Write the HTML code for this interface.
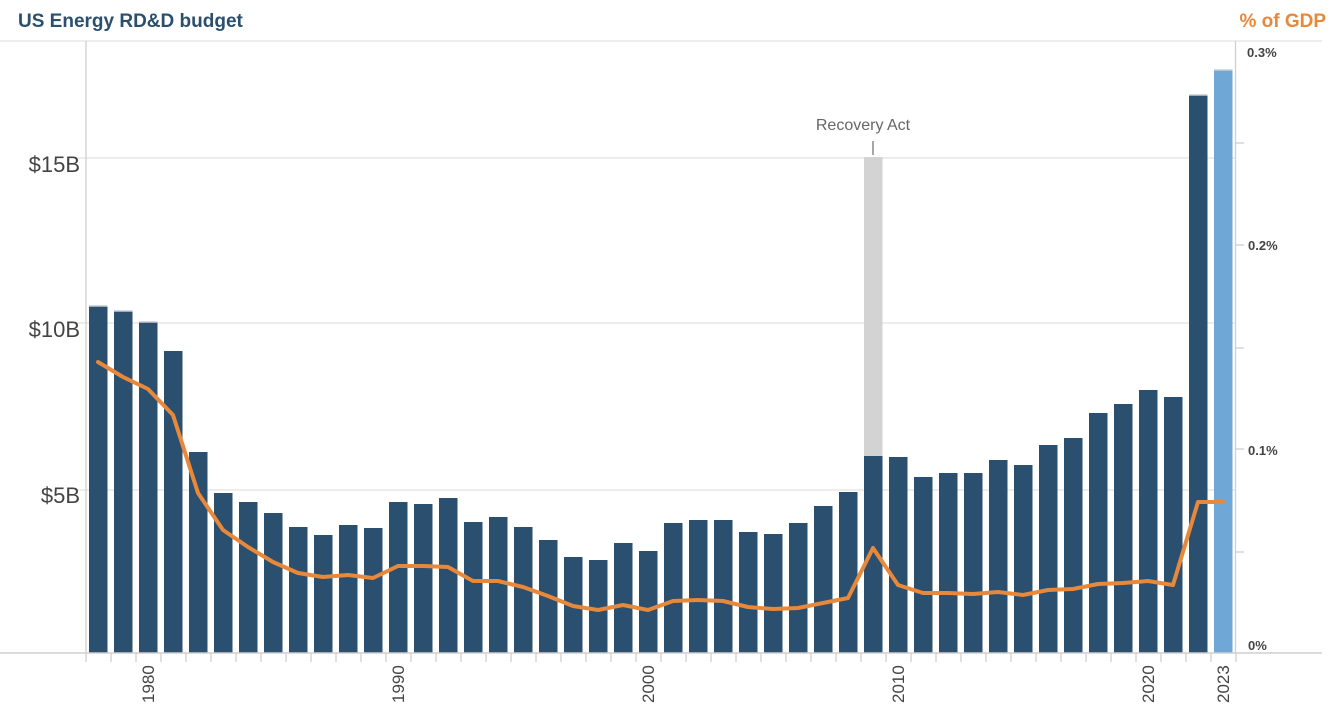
<!DOCTYPE html>
<html><head><meta charset="utf-8"><style>
html,body{margin:0;padding:0;background:#fff;}
svg{display:block;}
text{font-family:"Liberation Sans",sans-serif;}
</style></head><body>
<svg width="1332" height="715" xmlns="http://www.w3.org/2000/svg">
<text x="18" y="27" font-size="19" font-weight="bold" fill="#2b4f6e">US Energy RD&amp;D budget</text>
<text x="1326" y="27" font-size="19" font-weight="bold" fill="#e8883a" text-anchor="end">% of GDP</text>
<g stroke="#e2e2e2" stroke-width="1.3">
<line x1="0" y1="41" x2="1322" y2="41"/>
<line x1="78" y1="158" x2="1235" y2="158"/>
<line x1="78" y1="323" x2="1235" y2="323"/>
<line x1="78" y1="490" x2="1235" y2="490"/>
</g>
<line x1="86" y1="41" x2="86" y2="653" stroke="#d0d0d0" stroke-width="1.3"/>
<line x1="1235.5" y1="41" x2="1235.5" y2="653" stroke="#d0d0d0" stroke-width="1.3"/>
<g font-size="22" fill="#444" text-anchor="end">
<text x="80" y="172">$15B</text>
<text x="80" y="337">$10B</text>
<text x="80" y="503">$5B</text>
</g>
<g font-size="13" font-weight="bold" fill="#444">
<text x="1247" y="57">0.3%</text>
<text x="1248" y="250">0.2%</text>
<text x="1248" y="455">0.1%</text>
<text x="1248" y="650">0%</text>
</g>
<g stroke="#d0d0d0" stroke-width="1.3">
<line x1="1236" y1="143" x2="1244" y2="143"/>
<line x1="1236" y1="245" x2="1244" y2="245"/>
<line x1="1236" y1="348" x2="1244" y2="348"/>
<line x1="1236" y1="449" x2="1244" y2="449"/>
<line x1="1236" y1="552" x2="1244" y2="552"/>
</g>
<rect x="864" y="157" width="18.5" height="300" fill="#d3d3d3"/>
<line x1="873" y1="141" x2="873" y2="155" stroke="#777" stroke-width="1.3"/>
<text x="863" y="130" font-size="16" fill="#666" text-anchor="middle">Recovery Act</text>
<g fill="#2b4f6e" stroke="#c9ccd0" stroke-width="0">
<rect x="89" y="306" width="18.5" height="347"/>
<rect x="114" y="311" width="18.5" height="342"/>
<rect x="139" y="322" width="18.5" height="331"/>
<rect x="164" y="351" width="18.5" height="302"/>
<rect x="189" y="452" width="18.5" height="201"/>
<rect x="214" y="493" width="18.5" height="160"/>
<rect x="239" y="502" width="18.5" height="151"/>
<rect x="264" y="513" width="18.5" height="140"/>
<rect x="289" y="527" width="18.5" height="126"/>
<rect x="314" y="535" width="18.5" height="118"/>
<rect x="339" y="525" width="18.5" height="128"/>
<rect x="364" y="528" width="18.5" height="125"/>
<rect x="389" y="502" width="18.5" height="151"/>
<rect x="414" y="504" width="18.5" height="149"/>
<rect x="439" y="498" width="18.5" height="155"/>
<rect x="464" y="522" width="18.5" height="131"/>
<rect x="489" y="517" width="18.5" height="136"/>
<rect x="514" y="527" width="18.5" height="126"/>
<rect x="539" y="540" width="18.5" height="113"/>
<rect x="564" y="557" width="18.5" height="96"/>
<rect x="589" y="560" width="18.5" height="93"/>
<rect x="614" y="543" width="18.5" height="110"/>
<rect x="639" y="551" width="18.5" height="102"/>
<rect x="664" y="523" width="18.5" height="130"/>
<rect x="689" y="520" width="18.5" height="133"/>
<rect x="714" y="520" width="18.5" height="133"/>
<rect x="739" y="532" width="18.5" height="121"/>
<rect x="764" y="534" width="18.5" height="119"/>
<rect x="789" y="523" width="18.5" height="130"/>
<rect x="814" y="506" width="18.5" height="147"/>
<rect x="839" y="492" width="18.5" height="161"/>
<rect x="864" y="456" width="18.5" height="197"/>
<rect x="889" y="457" width="18.5" height="196"/>
<rect x="914" y="477" width="18.5" height="176"/>
<rect x="939" y="473" width="18.5" height="180"/>
<rect x="964" y="473" width="18.5" height="180"/>
<rect x="989" y="460" width="18.5" height="193"/>
<rect x="1014" y="465" width="18.5" height="188"/>
<rect x="1039" y="445" width="18.5" height="208"/>
<rect x="1064" y="438" width="18.5" height="215"/>
<rect x="1089" y="413" width="18.5" height="240"/>
<rect x="1114" y="404" width="18.5" height="249"/>
<rect x="1139" y="390" width="18.5" height="263"/>
<rect x="1164" y="397" width="18.5" height="256"/>
<rect x="1189" y="95" width="18.5" height="558"/>
<rect x="1214" y="70" width="18.5" height="583" fill="#6fa8d6"/>
</g>
<path d="M1189 95h18.5M1214 70h18.5M89 306h18.5M114 311h18.5M139 322h18.5" stroke="#c9ccd0" stroke-width="1.5"/>
<path d="M86 653v9M111 653v9M136 653v9M161 653v9M186 653v9M211 653v9M236 653v9M261 653v9M286 653v9M311 653v9M336 653v9M361 653v9M386 653v9M411 653v9M436 653v9M461 653v9M486 653v9M511 653v9M536 653v9M561 653v9M586 653v9M611 653v9M636 653v9M661 653v9M686 653v9M711 653v9M736 653v9M761 653v9M786 653v9M811 653v9M836 653v9M861 653v9M886 653v9M911 653v9M936 653v9M961 653v9M986 653v9M1011 653v9M1036 653v9M1061 653v9M1086 653v9M1111 653v9M1136 653v9M1161 653v9M1186 653v9M1211 653v9M1236 653v9" stroke="#d0d0d0" stroke-width="1.3"/>
<path d="M98 362L123 377L148 389L173 415L198 493L223 530L248 547L273 562L298 573L323 577L348 575L373 578L398 566L423 566L448 567L473 581L498 581L523 587L548 596L573 606L598 610L623 605L648 610L673 601L698 600L723 601L748 607L773 609L798 608L823 603L848 598L873 548L898 585L923 593L948 593L973 594L998 592L1023 595L1048 590L1073 589L1098 584L1123 583L1148 581L1173 585L1198 502L1223 502" fill="none" stroke="#e8883a" stroke-width="4" stroke-linejoin="round" stroke-linecap="round"/>
<g font-size="17" fill="#444">
<text transform="translate(154,703) rotate(-90)">1980</text>
<text transform="translate(404,703) rotate(-90)">1990</text>
<text transform="translate(654,703) rotate(-90)">2000</text>
<text transform="translate(904,703) rotate(-90)">2010</text>
<text transform="translate(1154,703) rotate(-90)">2020</text>
<text transform="translate(1229,703) rotate(-90)">2023</text>
</g>
<line x1="0" y1="653" x2="1322" y2="653" stroke="#cfcfcf" stroke-width="1.5"/>
</svg>
</body></html>
